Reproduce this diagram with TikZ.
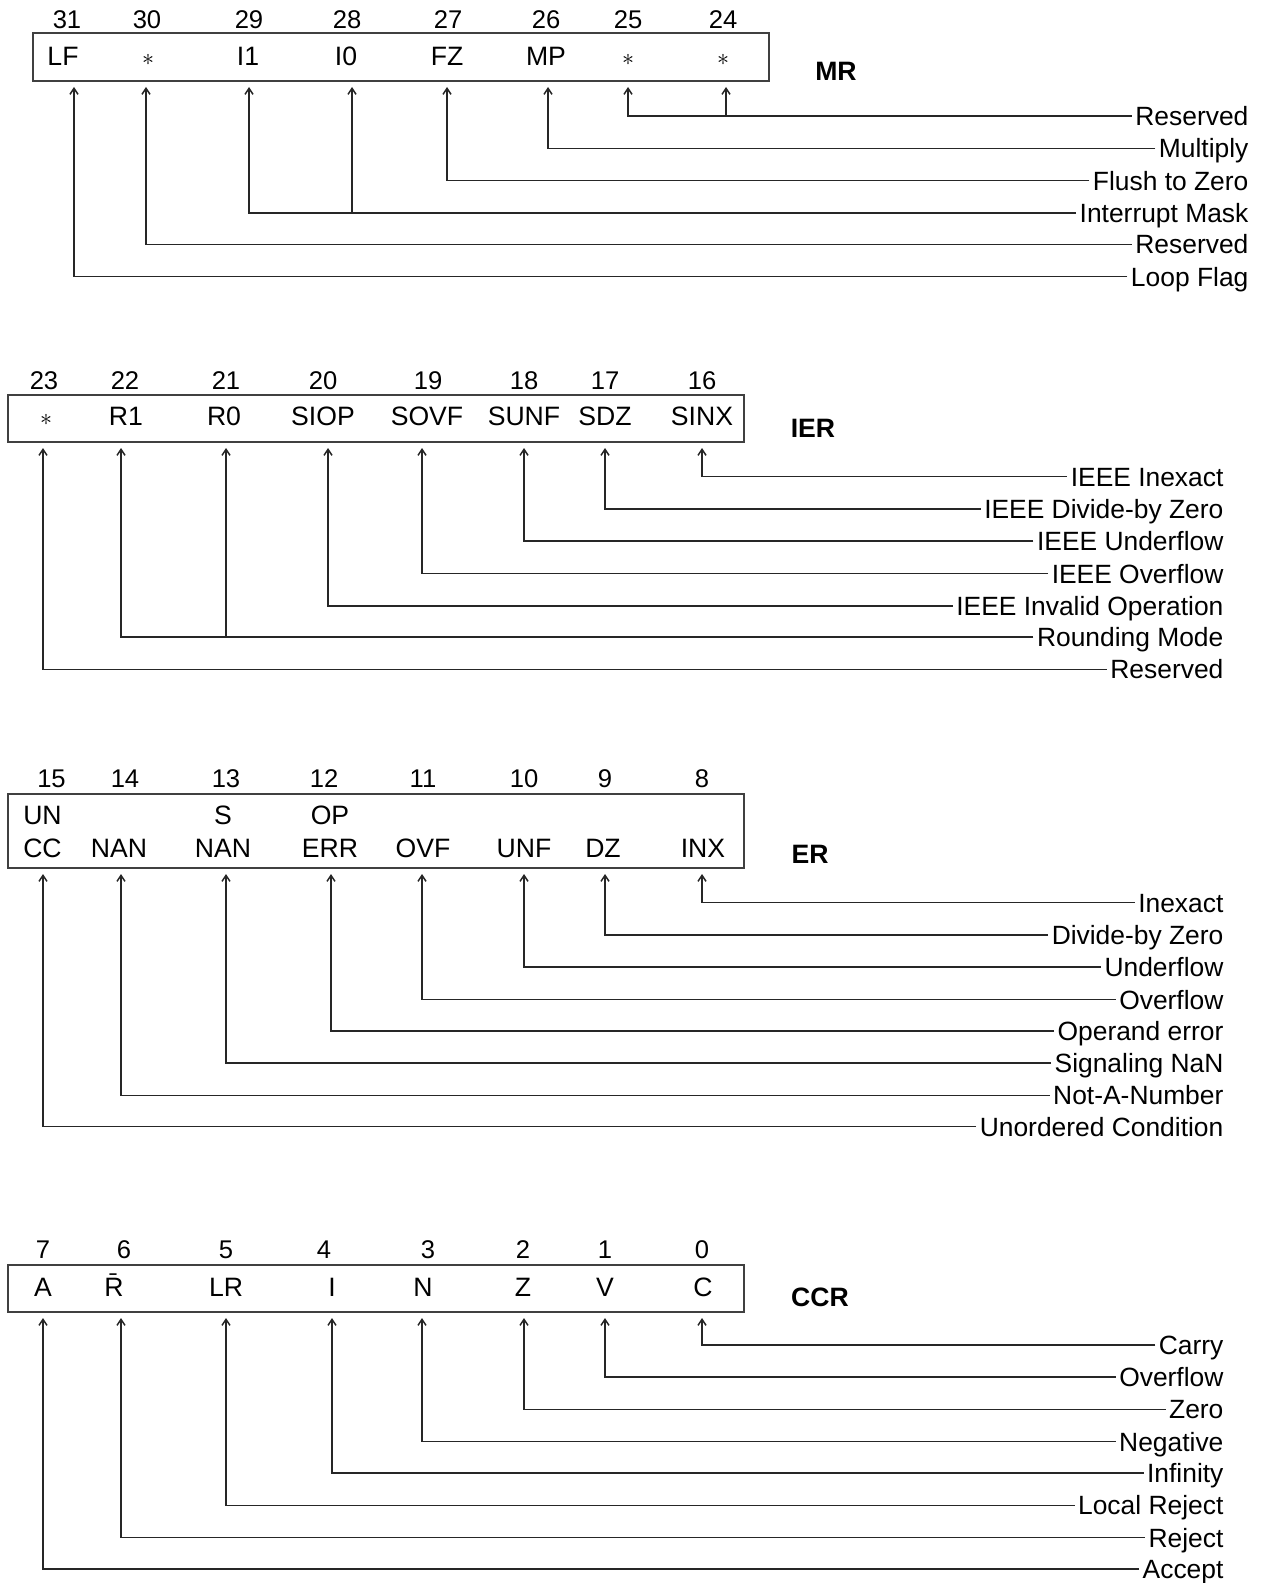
\documentclass[tikz,border=0pt]{standalone}
\usepackage{fontspec}
\setmainfont{Liberation Sans}
\usetikzlibrary{arrows.meta}
\tikzset{
    regbox/.style={draw=black!75, line width=1pt},
    bitnum/.style={anchor=base, inner sep=0pt, font=\fontsize{12.8}{14}\selectfont},
    bitlbl/.style={anchor=base, inner sep=0pt, font=\fontsize{13.3}{15}\selectfont},
    bitlbltwo/.style={anchor=north, inner sep=0pt, align=center, font=\fontsize{13.3}{16.5}\selectfont},
    starlbl/.style={anchor=base, inner sep=0pt, font=\fontsize{12}{13}\selectfont},
    desc/.style={anchor=east, inner sep=1.6pt, text height=9.5pt, text depth=0pt, font=\fontsize{13.2}{15}\selectfont},
    regname/.style={font=\bfseries\fontsize{13.3}{15}\selectfont},
    arrow/.style={-{Straight Barb[length=3pt,width=4pt]}, line width=0.75pt, black!85},
}

\begin{document}
\begin{tikzpicture}[x=0.5pt, y=-0.5pt]
    \useasboundingbox (0,0) rectangle (1260,1583);

    % Registro MR
    \draw[regbox] (33,33) rectangle (769,81);
    \node[regname] (mr) at (836,71) {MR};
    \foreach \n/\x in {31/67,30/147,29/249,28/347,27/448,26/546,25/628,24/723}
        \node[bitnum] (b\n) at (\x,28.5) {\n};
    \node[bitlbl] (lf) at (63,65.5) {LF};
    \node[starlbl] (r30) at (148,65.5) {$\ast$};
    \node[bitlbl] (i1) at (248,65.5) {I1};
    \node[bitlbl] (i0) at (346,65.5) {I0};
    \node[bitlbl] (fz) at (447,65.5) {FZ};
    \node[bitlbl] (mp) at (546,65.5) {MP};
    \node[starlbl] (r25) at (628,65.5) {$\ast$};
    \node[starlbl] (r24) at (723,65.5) {$\ast$};
    \coordinate (lf-t) at (74,87);
    \coordinate (r30-t) at (146,87);
    \coordinate (i1-t) at (249,87);
    \coordinate (i0-t) at (352,87);
    \coordinate (fz-t) at (447,87);
    \coordinate (mp-t) at (548,87);
    \coordinate (r25-t) at (628,87);
    \coordinate (r24-t) at (726,87);
    \node[desc] (d-mres) at (1252,116) {Reserved};
    \node[desc] (d-mp) at (1252,148.4) {Multiply};
    \node[desc] (d-fz) at (1252,180.7) {Flush to Zero};
    \node[desc] (d-im) at (1252,213) {Interrupt Mask};
    \node[desc] (d-mres2) at (1252,244.3) {Reserved};
    \node[desc] (d-lf) at (1252,276.6) {Loop Flag};
    \draw[arrow] (d-mres.west) -| (r25-t);
    \draw[arrow] (r24-t |- d-mres.west) -- (r24-t);
    \draw[arrow] (d-mp.west) -| (mp-t);
    \draw[arrow] (d-fz.west) -| (fz-t);
    \draw[arrow] (d-im.west) -| (i1-t);
    \draw[arrow] (i0-t |- d-im.west) -- (i0-t);
    \draw[arrow] (d-mres2.west) -| (r30-t);
    \draw[arrow] (d-lf.west) -| (lf-t);

    % Registro IER
    \draw[regbox] (8,395) rectangle (744,442);
    \node[regname] (ier) at (813,428) {IER};
    \foreach \n/\x in {23/44,22/125,21/226,20/323,19/428,18/524,17/605,16/702}
        \node[bitnum] (b\n) at (\x,389.5) {\n};
    \node[starlbl] (r23) at (46,425) {$\ast$};
    \node[bitlbl] (r1) at (126,425) {R1};
    \node[bitlbl] (r0) at (224,425) {R0};
    \node[bitlbl] (siop) at (323,425) {SIOP};
    \node[bitlbl] (sovf) at (427,425) {SOVF};
    \node[bitlbl] (sunf) at (524,425) {SUNF};
    \node[bitlbl] (sdz) at (605,425) {SDZ};
    \node[bitlbl] (sinx) at (702,425) {SINX};
    \coordinate (r23-t) at (43,448);
    \coordinate (r1-t) at (121,448);
    \coordinate (r0-t) at (226,448);
    \coordinate (siop-t) at (328,448);
    \coordinate (sovf-t) at (422,448);
    \coordinate (sunf-t) at (524,448);
    \coordinate (sdz-t) at (605,448);
    \coordinate (sinx-t) at (702,448);
    \node[desc] (d-sinx) at (1227,476.5) {IEEE Inexact};
    \node[desc] (d-sdz) at (1227,508.8) {IEEE Divide-by Zero};
    \node[desc] (d-sunf) at (1227,541.1) {IEEE Underflow};
    \node[desc] (d-sovf) at (1227,573.5) {IEEE Overflow};
    \node[desc] (d-siop) at (1227,605.8) {IEEE Invalid Operation};
    \node[desc] (d-rm) at (1227,637.1) {Rounding Mode};
    \node[desc] (d-ires) at (1227,669.4) {Reserved};
    \draw[arrow] (d-sinx.west) -| (sinx-t);
    \draw[arrow] (d-sdz.west) -| (sdz-t);
    \draw[arrow] (d-sunf.west) -| (sunf-t);
    \draw[arrow] (d-sovf.west) -| (sovf-t);
    \draw[arrow] (d-siop.west) -| (siop-t);
    \draw[arrow] (d-rm.west) -| (r1-t);
    \draw[arrow] (r0-t |- d-rm.west) -- (r0-t);
    \draw[arrow] (d-ires.west) -| (r23-t);

    % Registro ER
    \draw[regbox] (8,794) rectangle (744,868);
    \node[regname] (er) at (810,854) {ER};
    \foreach \n/\x in {15/51.5,14/125,13/226,12/324,11/423,10/524,9/605,8/702}
        \node[bitnum] (b\n) at (\x,787.5) {\n};
    \node[bitlbltwo] (uncc) at (42.5,805.7) {UN\\CC};
    \node[bitlbl] (nan) at (119,857.3) {NAN};
    \node[bitlbltwo] (snan) at (223,805.7) {S\\NAN};
    \node[bitlbltwo] (operr) at (330,805.7) {OP\\ERR};
    \node[bitlbl] (ovf) at (423,857.3) {OVF};
    \node[bitlbl] (unf) at (524,857.3) {UNF};
    \node[bitlbl] (dz) at (603,857.3) {DZ};
    \node[bitlbl] (inx) at (703,857.3) {INX};
    \coordinate (uncc-t) at (43,874);
    \coordinate (nan-t) at (121,874);
    \coordinate (snan-t) at (226,874);
    \coordinate (operr-t) at (331,874);
    \coordinate (ovf-t) at (422,874);
    \coordinate (unf-t) at (524,874);
    \coordinate (dz-t) at (605,874);
    \coordinate (inx-t) at (702,874);
    \node[desc] (d-inx) at (1227,902.6) {Inexact};
    \node[desc] (d-dz) at (1227,934.9) {Divide-by Zero};
    \node[desc] (d-unf) at (1227,967.2) {Underflow};
    \node[desc] (d-ovf) at (1227,999.5) {Overflow};
    \node[desc] (d-operr) at (1227,1030.8) {Operand error};
    \node[desc] (d-snan) at (1227,1063.1) {Signaling NaN};
    \node[desc] (d-nan) at (1227,1095.4) {Not-A-Number};
    \node[desc] (d-uncc) at (1227,1126.7) {Unordered Condition};
    \draw[arrow] (d-inx.west) -| (inx-t);
    \draw[arrow] (d-dz.west) -| (dz-t);
    \draw[arrow] (d-unf.west) -| (unf-t);
    \draw[arrow] (d-ovf.west) -| (ovf-t);
    \draw[arrow] (d-operr.west) -| (operr-t);
    \draw[arrow] (d-snan.west) -| (snan-t);
    \draw[arrow] (d-nan.west) -| (nan-t);
    \draw[arrow] (d-uncc.west) -| (uncc-t);

    % Registro CCR
    \draw[regbox] (8,1265) rectangle (744,1312);
    \node[regname] (ccr) at (820,1297) {CCR};
    \foreach \n/\x in {7/43,6/124,5/226,4/324,3/428,2/523,1/605,0/702}
        \node[bitnum] (b\n) at (\x,1258.5) {\n};
    \node[bitlbl] (acc) at (43,1296) {A};
    \node[bitlbl] (rej) at (114,1296) {\={R}};
    \node[bitlbl] (lr) at (226,1296) {LR};
    \node[bitlbl] (inf) at (332,1296) {I};
    \node[bitlbl] (neg) at (423,1296) {N};
    \node[bitlbl] (zer) at (523,1296) {Z};
    \node[bitlbl] (vov) at (605,1296) {V};
    \node[bitlbl] (car) at (703,1296) {C};
    \coordinate (acc-t) at (43,1318);
    \coordinate (rej-t) at (121,1318);
    \coordinate (lr-t) at (226,1318);
    \coordinate (inf-t) at (332,1318);
    \coordinate (neg-t) at (422,1318);
    \coordinate (zer-t) at (524,1318);
    \coordinate (vov-t) at (605,1318);
    \coordinate (car-t) at (702,1318);
    \node[desc] (d-car) at (1227,1344.8) {Carry};
    \node[desc] (d-vov) at (1227,1377.1) {Overflow};
    \node[desc] (d-zer) at (1227,1409.4) {Zero};
    \node[desc] (d-neg) at (1227,1441.7) {Negative};
    \node[desc] (d-inf) at (1227,1473) {Infinity};
    \node[desc] (d-lr) at (1227,1505.3) {Local Reject};
    \node[desc] (d-rej) at (1227,1537.6) {Reject};
    \node[desc] (d-acc) at (1227,1568.9) {Accept};
    \draw[arrow] (d-car.west) -| (car-t);
    \draw[arrow] (d-vov.west) -| (vov-t);
    \draw[arrow] (d-zer.west) -| (zer-t);
    \draw[arrow] (d-neg.west) -| (neg-t);
    \draw[arrow] (d-inf.west) -| (inf-t);
    \draw[arrow] (d-lr.west) -| (lr-t);
    \draw[arrow] (d-rej.west) -| (rej-t);
    \draw[arrow] (d-acc.west) -| (acc-t);
\end{tikzpicture}
\end{document}
